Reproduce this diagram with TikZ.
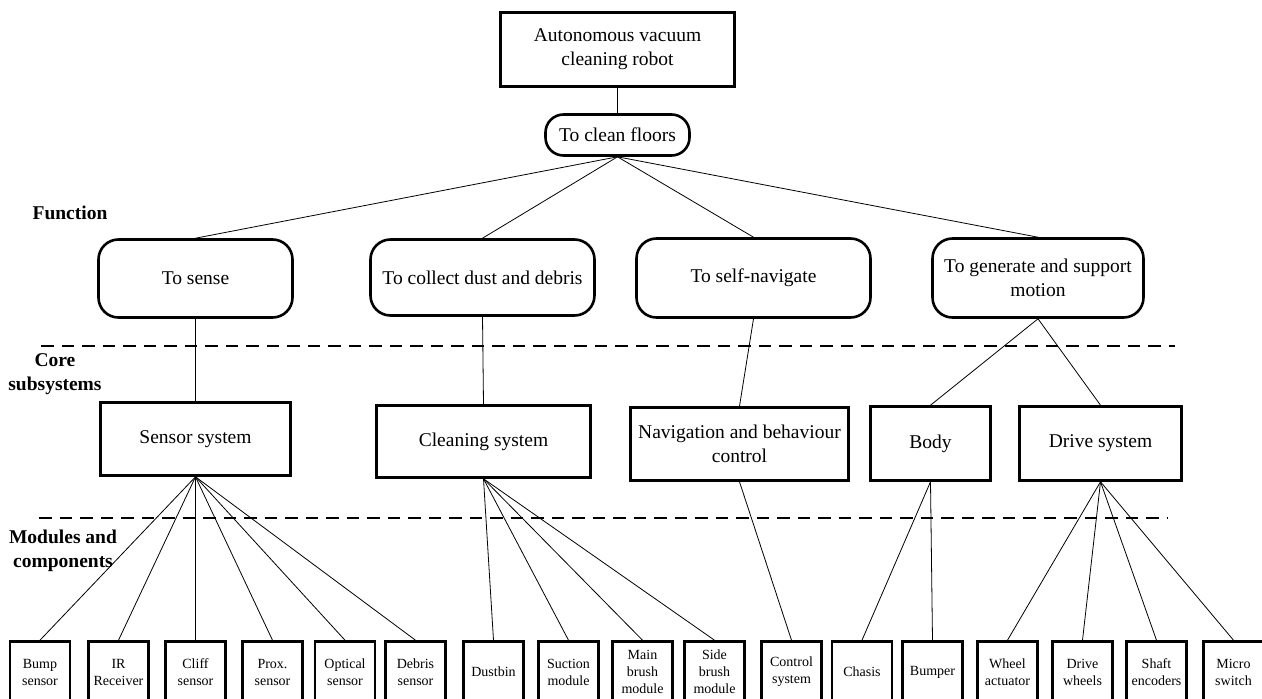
\documentclass[tikz,border=0pt]{standalone}
\usepackage{fontspec}
\setmainfont{Liberation Serif}
\tikzset{
  box/.style={draw, line width=2.6pt, inner sep=0pt, align=center,
    font=\fontsize{19.5}{24}\selectfont},
  fbox/.style={box, rounded corners=20pt},
  part/.style={draw, line width=2.6pt, inner sep=0pt, align=center,
    minimum width=60pt, minimum height=61pt,
    font=\fontsize{14}{17}\selectfont},
  link/.style={line width=0.8pt},
  level/.style={dash pattern=on 12.5pt off 8pt, line width=1.8pt},
  tier/.style={font=\bfseries\fontsize{19.5}{24}\selectfont, align=center}
}
\begin{document}
\begin{tikzpicture}[x=1pt, y=-1pt]
\useasboundingbox (0,0) rectangle (1262,699);
\clip (0,0) rectangle (1262,699);

% level separators
\draw[level] (41,346) -- (1175,346);
\draw[level] (39,518) -- (1167,518);

% level labels
\node[tier] (lfun) at (70,213) {Function};
\node[tier] (lcore) at (55,374) {Core\\subsystems};
\node[tier] (lmod) at (63,551) {Modules and\\components};

% product and main function
\node[box, minimum width=234pt, minimum height=74pt] (root) at (617.5,49.5)
  {Autonomous vacuum\\cleaning robot};
\node[box, rounded corners=18pt, minimum width=144pt, minimum height=41pt] (clean)
  at (617.5,135) {To clean floors};

% functions
\node[fbox, minimum width=194pt, minimum height=78pt] (sense) at (195.5,278.5) {To sense};
\node[fbox, minimum width=224pt, minimum height=76pt] (collect) at (482.5,277.5)
  {To collect dust and debris};
\node[fbox, minimum width=234pt, minimum height=79pt] (navigate) at (753.5,278)
  {To self-navigate};
\node[fbox, minimum width=211pt, minimum height=79pt] (generate) at (1038,278)
  {To generate and support\\motion};

% core subsystems
\node[box, minimum width=190pt, minimum height=73pt] (sensor) at (195.5,439) {Sensor system};
\node[box, minimum width=214pt, minimum height=72pt] (cleaning) at (483.5,441.5) {Cleaning system};
\node[box, minimum width=218pt, minimum height=73pt] (nav) at (739.5,444)
  {Navigation and behaviour\\control};
\node[box, minimum width=120pt, minimum height=74pt] (body) at (930.5,443.5) {Body};
\node[box, minimum width=162pt, minimum height=74pt] (drive) at (1100.5,443.5) {Drive system};

% modules and components
\node[part] (bump)    at (40,672)    {Bump\\sensor};
\node[part] (ir)      at (118.5,672) {IR\\Receiver};
\node[part] (cliff)   at (195.5,672) {Cliff\\sensor};
\node[part] (prox)    at (272.5,672) {Prox.\\sensor};
\node[part] (optical) at (345,672)   {Optical\\sensor};
\node[part] (debris)  at (415.5,672) {Debris\\sensor};
\node[part] (dustbin) at (493.5,672) {Dustbin};
\node[part] (suction) at (568.5,672) {Suction\\module};
\node[part] (mainb)   at (642.5,672) {Main\\brush\\module};
\node[part] (sideb)   at (714.5,672) {Side\\brush\\module};
\node[part] (control) at (791.5,672) {Control\\system};
\node[part] (chasis)  at (862,672)   {Chasis};
\node[part] (bumper)  at (932.5,672) {Bumper};
\node[part] (wheel)   at (1007.5,672) {Wheel\\actuator};
\node[part] (dwheels) at (1082.5,672) {Drive\\wheels};
\node[part] (shaft)   at (1156.5,672) {Shaft\\encoders};
\node[part] (micro)   at (1233.5,672) {Micro\\switch};

% connectors
\draw[link] (root.south) -- (clean.north);
\foreach \f in {sense,collect,navigate,generate}
  \draw[link] (clean.south) -- (\f.north);
\draw[link] (sense.south) -- (sensor.north);
\draw[link] (collect.south) -- (cleaning.north);
\draw[link] (navigate.south) -- (nav.north);
\draw[link] (generate.south) -- (body.north);
\draw[link] (generate.south) -- (drive.north);
\foreach \c in {bump,ir,cliff,prox,optical,debris}
  \draw[link] (sensor.south) -- (\c.north);
\foreach \c in {dustbin,suction,mainb,sideb}
  \draw[link] (cleaning.south) -- (\c.north);
\draw[link] (nav.south) -- (control.north);
\foreach \c in {chasis,bumper}
  \draw[link] (body.south) -- (\c.north);
\foreach \c in {wheel,dwheels,shaft,micro}
  \draw[link] (drive.south) -- (\c.north);
\end{tikzpicture}
\end{document}
